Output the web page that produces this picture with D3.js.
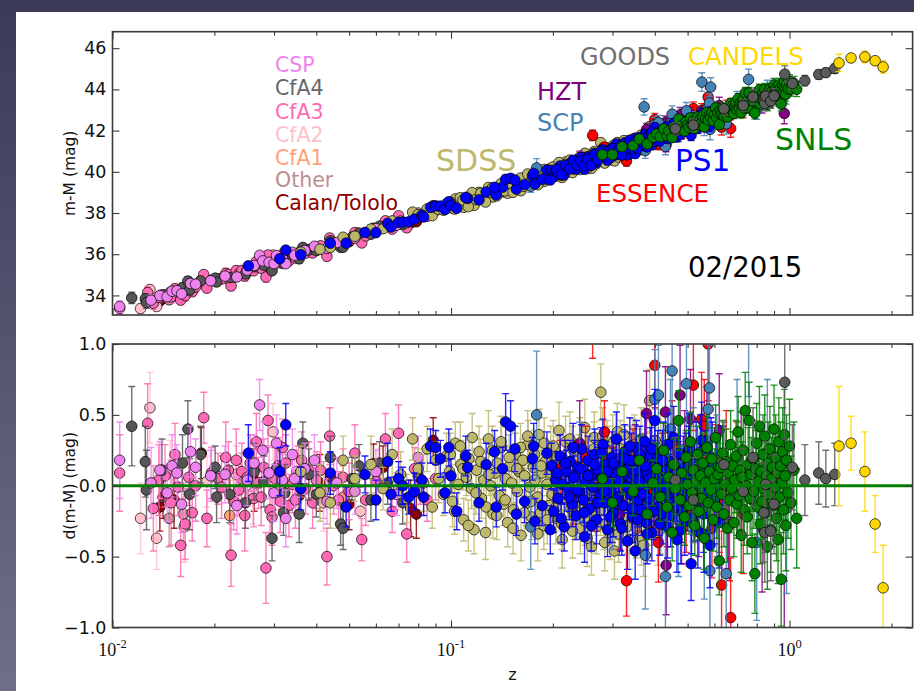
<!DOCTYPE html>
<html><head><meta charset="utf-8">
<script src="https://cdn.jsdelivr.net/npm/d3@7"></script>
<style>body{margin:0;background:#3c3b59;}svg{display:block;}</style>
</head><body>
<script>
// ---- DATA: rows are [z, residual d(m-M), error] ----
const calanTololo=[[.0138,-.15,.17],[.0141,-.08,.15],[.0152,-.10,.2],[.0183,.23,.18],[.0262,.04,.22],[.0356,-.07,.16],[.0410,.02,.2],[.0440,.06,.15],[.0500,-.13,.18],[.0590,.155,.14],[.0630,.13,.15],[.0760,-.16,.2],[.0790,-.20,.17],[.0886,.32,.16]];
const other=[[.0147,-.23,.2],[.0162,-.20,.22],[.0240,.05,.18],[.0420,-.03,.2]];
const cfa1=[[.0222,-.21,.25],[.0315,.04,.2],[.0480,-.08,.22]];
const cfa2=[[.0121,-.23,.25],[.0129,.55,.25],[.0135,-.37,.22],[.0148,.12,.2],[.0163,-.29,.25],[.0190,.03,.18],[.0232,.08,.2],[.0260,-.05,.22],[.0298,.38,.2],[.0350,.10,.18],[.0420,-.12,.2],[.0540,-.18,.17],[.0610,.06,.2],[.0700,-.02,.15]];
const cfa3=[[.0105,.09,.27],[.0127,.44,.28],[.0132,-.16,.3],[.0137,.04,.25],[.0143,.07,.22],[.0149,-.12,.3],[.0153,.22,.22],[.0156,-.01,.2],[.0159,-.42,.22],[.0164,-.27,.25],[.0168,.06,.2],[.0172,-.19,.2],[.0176,.00,.25],[.0186,.48,.18],[.0190,-.23,.2],[.0196,.09,.18],[.0205,.05,.18],[.0210,-.01,.22],[.0216,.20,.25],[.0220,.11,.2],[.0224,-.49,.22],[.0228,-.11,.2],[.0232,.18,.22],[.0236,-.03,.18],[.0241,.10,.2],[.0246,-.21,.25],[.0250,.06,.18],[.0255,.16,.2],[.0261,-.09,.2],[.0266,.31,.2],[.0270,.02,.18],[.0275,-.08,.2],[.0280,.13,.2],[.0284,-.58,.25],[.0288,.46,.18],[.0292,-.17,.2],[.0296,-.22,.2],[.0302,.05,.22],[.0308,.14,.2],[.0313,-.11,.22],[.0318,.27,.2],[.0325,.16,.2],[.0332,-.14,.22],[.0340,.01,.2],[.0347,-.10,.2],[.0355,.08,.2],[.0362,.18,.2],[.0372,-.02,.18],[.0380,.11,.2],[.0390,-.12,.18],[.0400,.04,.2],[.0412,.11,.2],[.0430,-.50,.2],[.0438,.35,.2],[.0450,.00,.2],[.0465,-.10,.2],[.0480,.06,.2],[.0500,-.04,.2],[.0520,.23,.2],[.0545,-.38,.15],[.0560,-.10,.18],[.0600,.03,.15],[.0640,.33,.18],[.0670,-.18,.15],[.0700,.37,.2],[.0740,-.34,.2],[.0780,.12,.15],[.0810,.02,.15],[.0850,-.10,.15],[.0900,.05,.15]];
const cfa4=[[.0114,.42,.28],[.0125,.17,.25],[.0126,-.03,.28],[.0140,.11,.22],[.0161,.16,.2],[.0167,.40,.2],[.0169,-.06,.25],[.0182,.22,.2],[.0201,.13,.15],[.0203,-.08,.18],[.0222,-.06,.2],[.0247,-.12,.18],[.0262,.10,.2],[.0280,.03,.18],[.0296,-.37,.16],[.0305,.12,.2],[.0320,-.19,.16],[.0323,-.05,.2],[.0356,-.20,.2],[.0365,.30,.15],[.0380,.08,.18],[.0400,-.06,.16],[.0440,.20,.15],[.0472,-.27,.15],[.0480,-.30,.15],[.0510,.05,.15],[.0535,.14,.15],[.0580,-.10,.15],[.0615,.16,.15],[.0650,.02,.15],[.0720,-.12,.15],[.0800,.07,.15]];
const csp=[[.0105,.18,.27],[.0130,.02,.25],[.0138,.11,.2],[.0145,-.05,.2],[.0150,.14,.22],[.0155,.09,.2],[.0160,-.13,.2],[.0170,.24,.18],[.0176,.13,.2],[.0195,.07,.18],[.0215,.08,.2],[.0233,-.14,.2],[.0250,.04,.18],[.0262,.16,.2],[.0272,.57,.18],[.0278,.25,.2],[.0290,.09,.18],[.0300,-.05,.2],[.0305,.30,.2],[.0318,.04,.18],[.0325,-.23,.2],[.0340,.22,.18],[.0345,.05,.2],[.0370,.12,.18],[.0395,.18,.18],[.0430,-.11,.16],[.0460,.02,.18],[.0520,-.04,.16],[.0600,.10,.15],[.0690,-.06,.15],[.0800,.20,.15]];
const sdss=[[.036,.10,.18],[.041,-.05,.2],[.044,-.12,.18],[.048,.18,.17],[.052,.05,.16],[.058,.15,.2],[.063,-.02,.15],[.067,.22,.18],[.071,.08,.16],[.074,-.09,.17],[.077,.33,.15],[.080,.12,.14],[.083,.02,.2],[.085,.26,.16],[.088,-.15,.15],[.090,.18,.13],[.092,.05,.17],[.095,-.06,.15],[.097,.21,.16],[.099,.10,.14],[.101,-.11,.18],[.103,.30,.15],[.105,.01,.14],[.107,.15,.17],[.109,-.24,.15],[.111,.06,.13],[.113,.19,.16],[.115,-.02,.14],[.117,-.31,.17],[.119,.11,.15],[.121,.24,.18],[.123,-.09,.14],[.125,.04,.16],[.127,-.15,.15],[.129,.33,.2],[.131,.00,.14],[.133,-.20,.17],[.135,.09,.15],[.137,.16,.16],[.139,-.07,.14],[.141,.27,.18],[.143,-.13,.15],[.145,.05,.16],[.147,-.26,.17],[.149,.14,.14],[.151,.02,.15],[.153,-.17,.16],[.155,.22,.15],[.157,-.04,.14],[.159,.10,.17],[.161,-.35,.18],[.163,.18,.15],[.165,.07,.14],[.167,-.12,.16],[.169,.29,.17],[.171,-.01,.15],[.173,-.22,.16],[.175,.13,.14],[.177,.04,.15],[.180,-.08,.17],[.182,.36,.18],[.184,-.19,.15],[.186,.09,.16],[.188,-.28,.17],[.190,.17,.15],[.192,.01,.14],[.195,-.14,.16],[.197,.25,.17],[.199,-.06,.15],[.202,.12,.16],[.204,-.23,.18],[.206,.20,.15],[.209,-.03,.14],[.211,.08,.16],[.213,-.38,.2],[.216,.15,.15],[.218,.31,.18],[.221,-.10,.16],[.223,.03,.15],[.226,-.16,.17],[.228,.26,.16],[.231,-.21,.17],[.233,.06,.15],[.236,-.09,.16],[.238,.19,.17],[.241,-.30,.18],[.243,.11,.15],[.246,.00,.16],[.249,-.25,.17],[.251,.23,.16],[.254,-.05,.15],[.257,.14,.17],[.260,-.43,.2],[.262,.07,.16],[.265,.34,.18],[.268,-.18,.17],[.271,.02,.15],[.274,-.12,.16],[.277,.66,.2],[.280,.21,.17],[.283,-.27,.18],[.286,.10,.16],[.289,.28,.18],[.292,-.07,.16],[.295,-.33,.19],[.298,.16,.17],[.301,.05,.16],[.304,-.46,.2],[.307,-.20,.18],[.310,.38,.2],[.314,-.14,.17],[.317,.09,.16],[.320,.24,.18],[.324,-.02,.17],[.327,.13,.16],[.331,-.29,.19],[.334,.18,.18],[.338,-.11,.17],[.342,.04,.18],[.345,.27,.2],[.349,-.24,.19],[.353,.15,.18],[.357,-.08,.17],[.361,.20,.2],[.365,-.36,.2],[.369,.01,.18],[.373,.12,.19],[.378,-.15,.18],[.382,.08,.2],[.386,.60,.22],[.391,-.22,.2],[.396,-.04,.2],[.401,.32,.22],[.406,-.19,.2],[.411,.06,.21],[.417,-.26,.22],[.423,.17,.2],[.429,-.09,.22],
[.0995,.22,.15],[.1025,-.18,.16],[.1065,.28,.17],[.1085,.12,.15],[.1125,-.28,.18],[.1155,.34,.17],[.1185,-.05,.15],[.1225,.17,.16],[.1265,-.33,.19],[.1295,.08,.15],[.1325,.25,.17],[.1365,-.21,.17],[.1405,.31,.18],[.1445,-.10,.15],[.1485,.20,.16],[.1525,-.30,.18],[.1565,.12,.15],[.1605,.27,.17],[.1645,-.19,.16],[.1685,.35,.18],[.1725,-.11,.16],[.1765,.22,.17],[.1805,-.34,.19],[.1845,.14,.16],[.1885,.30,.18],[.1925,-.24,.17],[.1965,.09,.16],[.2005,.28,.18],[.2045,-.15,.17],[.2085,.39,.2],[.2125,-.27,.18],[.2165,.18,.17],[.2205,-.06,.16],[.2245,.33,.19],[.2285,-.32,.19],[.2325,.14,.17],[.2365,-.19,.18],[.2405,.29,.19],[.2445,-.12,.17],[.2485,.41,.2],[.2525,-.37,.2],[.2565,.19,.18],[.2605,-.03,.17],[.2645,.26,.19],[.2685,-.29,.19],[.2725,.13,.18],[.2765,-.17,.18],[.2805,.35,.2],[.2845,-.40,.2],[.2885,.09,.18],[.2925,.23,.19],[.2965,-.23,.19],[.3005,.30,.2],[.3045,-.13,.18],[.3085,.17,.19],[.3125,-.34,.2],[.3165,.26,.2],[.3205,-.06,.19],[.3245,.36,.21],[.3285,-.21,.2],[.3325,.10,.19],[.3365,-.38,.21],[.3405,.22,.2],[.3445,-.14,.2],[.3485,.29,.21],[.3525,-.30,.21],[.3565,.07,.2],[.3605,-.18,.21],[.3645,.33,.22],[.3705,-.42,.22],[.3765,.16,.21],[.3825,-.27,.22],[.3885,.24,.22],[.3945,-.11,.21],[.4005,.19,.22],[.4085,-.33,.23],[.4165,.28,.23]];
const essence=[[.210,.12,.2],[.230,-.05,.22],[.250,.20,.22],[.262,1.15,.25],[.270,-.12,.2],[.284,.38,.22],[.300,.05,.22],[.315,-.20,.25],[.330,-.67,.25],[.345,.15,.25],[.360,-.08,.24],[.375,.25,.26],[.390,-.02,.27],[.400,.85,.3],[.410,-.40,.28],[.420,.10,.27],[.435,-.15,.28],[.450,.30,.3],[.465,.02,.28],[.480,-.25,.3],[.495,-.17,.3],[.505,.18,.3],[.520,.71,.32],[.535,-.06,.3],[.550,.47,.33],[.560,.42,.33],[.575,1.0,.4],[.590,-.30,.35],[.605,.08,.35],[.620,-.12,.35],[.630,-.70,.38],[.650,.15,.38],[.665,-.27,.4],[.670,-.93,.42],[.700,.05,.4],[.730,-.20,.42]];
const hzt=[[.240,.30,.3],[.300,-.10,.3],[.350,.15,.28],[.378,.51,.3],[.400,.05,.3],[.430,.52,.32],[.432,-.56,.35],[.455,-.05,.3],[.475,.64,.35],[.490,.20,.33],[.510,.47,.35],[.540,-.15,.35],[.570,.32,.38],[.620,.39,.4],[.660,-.25,.4],[.720,.10,.42],[.830,-.30,.45],[.965,-1.17,.5]];
const scp=[[.172,-.29,.3],[.179,.50,.45],[.240,.10,.35],[.300,-.15,.3],[.372,1.65,.4],[.375,-.49,.38],[.400,.61,.35],[.410,.64,.35],[.430,-.64,.4],[.445,.40,.35],[.450,.81,.4],[.470,-.24,.4],[.496,.72,.4],[.520,.10,.45],[.551,1.84,.45],[.560,-.35,.45],[.575,.54,.45],[.580,.69,.45],[.582,-.60,.5],[.585,1.44,.45],[.610,.00,.5],[.650,-.62,.5],[.700,.20,.55],[.757,1.13,.5],[.800,-.40,.55],[.860,.15,.6],[.980,-.16,.6]];
const ps1=[[.0252,.23,.2],[.0312,.10,.17],[.0325,.43,.15],[.0360,-.02,.15],[.0440,.09,.15],[.0490,-.15,.14],[.0557,.08,.13],[.0600,-.10,.14],[.0650,.17,.13],[.0665,-.06,.12],[.0700,.05,.12],[.0720,.00,.13],[.0750,-.08,.12],[.0780,-.04,.13],[.0820,.04,.12],[.0830,-.08,.13],[.0870,.28,.12],[.0901,.27,.12],[.0930,.19,.13],[.0960,-.05,.14],[.0985,.27,.13],[.1000,.07,.12],[.1040,-.18,.13],[.1120,.13,.12],[.1210,-.12,.13],[.1270,.15,.15],[.1360,-.15,.14],[.1420,.12,.15],[.1450,.45,.2],[.1500,.42,.18],[.1560,-.20,.15],[.1650,-.11,.15],[.1740,.19,.15],[.1770,-.25,.16],[.1860,-.14,.14],[.1920,.23,.15],[.1980,.14,.16],[.2010,-.18,.15],[.2040,.04,.14],[.2070,-.09,.16],[.2100,.21,.15],[.2130,.01,.14],[.2160,-.29,.17],[.2190,.10,.15],[.2220,-.02,.16],[.2250,.17,.15],[.2280,-.13,.16],[.2310,.06,.15],[.2340,-.21,.17],[.2370,.13,.16],[.2400,-.05,.15],[.2430,.26,.17],[.2460,-.10,.16],[.2480,-.36,.18],[.2510,.03,.16],[.2540,.18,.17],[.2570,-.16,.16],[.2600,.08,.17],[.2630,-.01,.15],[.2660,.22,.18],[.2690,-.24,.17],[.2720,.11,.16],[.2750,-.07,.17],[.2780,.05,.16],[.2810,.29,.18],[.2840,-.12,.17],[.2870,.15,.16],[.2900,-.31,.19],[.2930,.02,.17],[.2960,-.04,.16],[.2990,.20,.18],[.3020,-.19,.17],[.3050,.09,.16],[.3080,.33,.19],[.3110,-.08,.17],[.3140,.14,.18],[.3170,-.27,.19],[.3200,.06,.17],[.3230,-.14,.18],[.3260,.24,.19],[.3290,.00,.17],[.3320,-.39,.2],[.3350,.12,.18],[.3380,-.06,.17],[.3410,.18,.19],[.3440,-.22,.18],[.3470,.07,.17],[.3500,-.46,.2],[.3530,.27,.19],[.3560,-.11,.18],[.3590,.04,.17],[.3620,.16,.19],[.3650,-.17,.18],[.3680,.10,.19],[.3710,-.03,.18],[.3740,.31,.2],[.3770,-.26,.19],[.3800,.08,.18],[.3840,-.09,.19],[.3880,.21,.2],[.3920,-.33,.2],[.3960,.13,.19],[.4000,.46,.22],[.4040,-.02,.19],[.4080,.19,.2],[.4120,-.15,.2],[.4160,.05,.19],[.4200,-.20,.21],[.4240,.25,.2],[.4280,-.07,.2],[.4320,.11,.21],[.4360,-.29,.22],[.4400,.02,.2],[.4450,.17,.21],[.4500,-.12,.21],[.4550,.34,.22],[.4600,-.04,.21],[.4650,-.38,.23],[.4700,.09,.22],[.4750,.22,.23],[.4800,-.18,.22],[.4850,.04,.22],[.4900,-.25,.24],[.4950,.14,.23],[.5000,-.09,.23],[.5060,.26,.25],[.5120,-.55,.26],[.5180,.01,.24],[.5240,-.14,.25],[.5300,.20,.25],[.5360,-.32,.26],[.5430,.08,.25],[.5500,.32,.27],[.5570,-.20,.27],[.5650,.12,.27],[.5730,-.05,.28],[.5820,-.42,.3],[.5910,.15,.3],[.6000,-.11,.3],[.6100,.03,.3],[.6200,-.26,.32],[.6350,.10,.32],
[.1105,.21,.14],[.1345,.24,.15],[.1545,.26,.16],[.1755,.28,.16],[.1965,-.31,.17],[.2055,.09,.15],[.2115,-.23,.17],[.2175,.16,.16],[.2235,-.08,.16],[.2295,.27,.17],[.2355,-.03,.16],[.2415,.12,.17],[.2475,-.19,.17],[.2535,.07,.17],[.2595,-.28,.18],[.2655,.15,.17],[.2715,-.12,.17],[.2775,.23,.18],[.2835,-.04,.17],[.2895,.10,.18],[.2955,-.22,.18],[.3015,.16,.18],[.3075,-.10,.18],[.3135,.04,.18],[.3195,-.30,.19],[.3255,.19,.19],[.3315,-.01,.18],[.3375,.28,.2],[.3435,-.16,.19],[.3495,.11,.19],[.3555,-.24,.2],[.3615,.22,.2],[.3675,-.06,.19],[.3735,.14,.2],[.3795,-.34,.21],[.3855,.05,.2],[.3915,.26,.21],[.3975,-.18,.2],[.4055,.09,.21],[.4135,-.27,.22],[.4215,.18,.21],[.4295,-.01,.21],[.4375,.29,.22],[.4455,-.21,.22],[.4535,.07,.22],[.4615,-.14,.22],[.4695,.23,.23],[.4775,-.31,.24],[.4855,.12,.23],[.4935,-.05,.23],[.5035,.18,.24],[.5135,-.23,.25],[.5235,.06,.25],[.5335,-.10,.25],[.5455,.24,.26],[.5585,-.34,.27],[.5715,.04,.27],[.5865,.20,.28]];
const snls=[[.280,.05,.16],[.300,-.12,.17],[.320,.10,.16],[.345,-.04,.17],[.360,.18,.17],[.380,-.20,.18],[.395,.02,.16],[.405,.12,.18],[.415,-.08,.17],[.425,.25,.19],[.435,-.15,.18],[.440,.06,.17],[.450,-.33,.2],[.455,.15,.18],[.460,-.02,.18],[.470,.46,.21],[.475,-.10,.18],[.480,.09,.19],[.490,-.22,.2],[.495,.20,.19],[.500,.01,.18],[.505,-.14,.2],[.510,.31,.21],[.515,-.05,.19],[.520,.11,.2],[.525,-.28,.21],[.530,.04,.19],[.535,.22,.2],[.540,-.18,.2],[.545,.07,.19],[.550,-.09,.2],[.555,.16,.21],[.560,-.37,.22],[.565,.02,.2],[.570,.27,.22],[.575,-.12,.21],[.580,.10,.21],[.585,-.03,.2],[.590,.19,.22],[.595,-.24,.22],[.600,.05,.21],[.605,.34,.23],[.610,-.15,.22],[.615,.08,.22],[.620,-.53,.24],[.625,.13,.22],[.630,-.06,.22],[.635,.23,.23],[.640,-.20,.23],[.645,.01,.22],[.650,.17,.23],[.655,-.30,.24],[.660,.09,.23],[.665,-.10,.23],[.670,.29,.24],[.675,-.02,.23],[.680,.14,.24],[.685,-.26,.24],[.690,.04,.23],[.695,.21,.25],[.700,-.13,.24],[.705,.38,.25],[.710,-.07,.24],[.715,.11,.25],[.720,-.35,.26],[.725,.06,.25],[.730,.25,.26],[.735,-.17,.25],[.740,.53,.27],[.745,.00,.25],[.750,-.22,.26],[.755,.15,.26],[.760,.46,.27],[.765,-.09,.26],[.770,.08,.26],[.775,-.40,.27],[.780,.19,.27],[.785,-.04,.26],[.790,-.62,.28],[.795,.12,.27],[.800,.30,.28],[.805,-.15,.27],[.810,.03,.27],[.815,.42,.28],[.820,-.27,.28],[.825,.10,.28],[.830,-.11,.27],[.835,.22,.28],[.840,-.02,.28],[.845,.35,.29],[.850,-.19,.28],[.855,.07,.28],[.860,-.43,.3],[.865,.16,.29],[.870,-.06,.28],[.875,.26,.3],[.880,-.31,.3],[.885,.05,.29],[.890,.13,.29],[.895,-.14,.29],[.900,.40,.31],[.905,-.01,.3],[.910,.20,.3],[.915,-.23,.3],[.920,.09,.3],[.925,-.38,.31],[.930,.31,.31],[.935,-.08,.3],[.940,.14,.31],[.945,-.66,.33],[.950,.02,.31],[.955,.24,.31],[.960,-.17,.31],[.965,.36,.32],[.970,.07,.31],[.975,-.28,.32],[.980,.18,.32],[.990,-.05,.32],[1.000,.28,.33],[1.010,-.12,.33],[1.030,.11,.34],[1.050,-.23,.35]];
const goods=[[.460,.04,.3],[.520,-.10,.3],[.640,.15,.3],[.730,-.04,.3],[.780,.20,.35],[.840,-.19,.35],[.845,-.33,.35],[.850,.01,.3],[.880,-.32,.35],[.900,-.13,.35],[.968,.73,.4],[1.02,.13,.3],[1.11,.04,.25],[1.22,.09,.22],[1.28,.05,.2],[1.36,.08,.22]];
const candels=[[1.40,.28,.42],[1.52,.30,.19],[1.67,.10,.28],[1.79,-.27,.2],[1.89,-.72,.3]];

const xMajorTicks=[0.01,0.1,1];
const xMajorExponents=["-2","-1","0"];
const xMinorTicks=[.02,.03,.04,.05,.06,.07,.08,.09,.2,.3,.4,.5,.6,.7,.8,.9,2];
const muTicks=[34,36,38,40,42,44,46];
const dmuTicks=[-1,-0.5,0,0.5,1];

// ---- styles / layout ----
const surveys=[
 {name:"Calan/Tololo",rows:calanTololo,color:"#8b0000"},
 {name:"Other",rows:other,color:"#bc8f8f"},
 {name:"CfA1",rows:cfa1,color:"#ffa07a"},
 {name:"CfA2",rows:cfa2,color:"#ffc0cb"},
 {name:"CfA3",rows:cfa3,color:"#ff69b4"},
 {name:"CfA4",rows:cfa4,color:"#555555"},
 {name:"CSP",rows:csp,color:"#ee82ee"},
 {name:"SDSS",rows:sdss,color:"#bdb76b"},
 {name:"ESSENCE",rows:essence,color:"#ff0000"},
 {name:"HZT",rows:hzt,color:"#800080"},
 {name:"SCP",rows:scp,color:"#4682b4"},
 {name:"PS1",rows:ps1,color:"#0000ff"},
 {name:"SNLS",rows:snls,color:"#008000"},
 {name:"GOODS",rows:goods,color:"#5a5a5a"},
 {name:"CANDELS",rows:candels,color:"#ffd700"}
];
const labels=[
 {t:"CSP",x:275,y:71.7,s:20.5,c:"#ee82ee"},
 {t:"CfA4",x:275,y:95.2,s:20.5,c:"#666666"},
 {t:"CfA3",x:275,y:118.5,s:20.5,c:"#ff69b4"},
 {t:"CfA2",x:275,y:141.7,s:20.5,c:"#ffc0cb"},
 {t:"CfA1",x:275,y:164.5,s:20.5,c:"#ffa07a"},
 {t:"Other",x:275,y:187,s:20.5,c:"#bc8f8f"},
 {t:"Calan/Tololo",x:275,y:210,s:20.5,c:"#8b0000"},
 {t:"GOODS",x:580,y:64.5,s:24,c:"#707070"},
 {t:"CANDELS",x:688,y:64.5,s:24.5,c:"#ffd700"},
 {t:"HZT",x:537,y:100,s:24,c:"#800080"},
 {t:"SCP",x:537,y:131,s:24,c:"#4682b4"},
 {t:"SDSS",x:436,y:170.7,s:30,c:"#bdb76b"},
 {t:"PS1",x:675,y:171,s:29.5,c:"#0000ff"},
 {t:"ESSENCE",x:596,y:201.7,s:24.5,c:"#ff0000"},
 {t:"SNLS",x:775,y:150,s:30,c:"#008000"},
 {t:"02/2015",x:688,y:276.5,s:27.5,c:"#000000",w:"normal"}
];

// distance modulus of flat LCDM (Om=0.3, H0=70) used for the top panel
function muModel(z){
  const n=200,h=z/n,Om=0.3;
  const f=t=>1/Math.sqrt(Om*Math.pow(1+t,3)+1-Om);
  let s=f(0)+f(z);
  for(let i=1;i<n;i++) s+=(i%2?4:2)*f(i*h);
  const dC=299792.458/70*s*h/3;
  return 5*Math.log10((1+z)*dC)+25;
}

const W=914,H=691;
const L=112.5,R=912.6;
const top1=31.7,bot1=315,top2=344,bot2=627.5;
const FONT="DejaVu Sans, Bitstream Vera Sans, sans-serif";

const svg=d3.select("body").append("svg").attr("width",W).attr("height",H);
const defs=svg.append("defs");
const lg=defs.append("linearGradient").attr("id","bg").attr("x1",0).attr("y1",0).attr("x2",0).attr("y2",1);
lg.append("stop").attr("offset","0%").attr("stop-color","#3b3a57");
lg.append("stop").attr("offset","100%").attr("stop-color","#706f89");
defs.append("clipPath").attr("id","cTop").append("rect").attr("x",L).attr("y",top1).attr("width",R-L).attr("height",bot1-top1);
defs.append("clipPath").attr("id","cBot").append("rect").attr("x",L).attr("y",top2).attr("width",R-L).attr("height",bot2-top2);

svg.append("rect").attr("width",W).attr("height",H).attr("fill","url(#bg)");
svg.append("rect").attr("x",16).attr("y",12).attr("width",W-16).attr("height",H-12).attr("fill","#ffffff");

const x=d3.scaleLog().domain([0.01,2.31]).range([L,R]);
const yTop=d3.scaleLinear().domain([33.05,46.8]).range([bot1,top1]);
const yBot=d3.scaleLinear().domain([-1,1]).range([bot2,top2]);

// annotation labels in top panel (drawn under the points)
const labG=svg.append("g");
labels.forEach(l=>{
  labG.append("text").attr("x",l.x).attr("y",l.y).attr("font-family",FONT)
   .attr("font-size",l.s).attr("font-weight",l.w||"normal").attr("fill",l.c).text(l.t);
});

function drawSeries(clipId,y,val){
  const g=svg.append("g").attr("clip-path","url(#"+clipId+")");
  surveys.forEach(s=>{
    const gs=g.append("g");
    gs.selectAll("line.bar").data(s.rows).join("line").attr("class","bar")
      .attr("x1",d=>x(d[0])).attr("x2",d=>x(d[0]))
      .attr("y1",d=>y(val(d)-d[2])).attr("y2",d=>y(val(d)+d[2]))
      .attr("stroke",s.color).attr("stroke-width",1.4).attr("stroke-opacity",0.85);
    gs.selectAll("line.cap").data(s.rows.flatMap(d=>[[d,-1],[d,1]])).join("line").attr("class","cap")
      .attr("x1",d=>x(d[0][0])-3.5).attr("x2",d=>x(d[0][0])+3.5)
      .attr("y1",d=>y(val(d[0])+d[1]*d[0][2])).attr("y2",d=>y(val(d[0])+d[1]*d[0][2]))
      .attr("stroke",s.color).attr("stroke-width",1.4).attr("stroke-opacity",0.85);
    gs.selectAll("circle").data(s.rows).join("circle")
      .attr("cx",d=>x(d[0])).attr("cy",d=>y(val(d))).attr("r",5.3)
      .attr("fill",s.color).attr("stroke","#000").attr("stroke-width",0.7);
  });
  return g;
}
drawSeries("cTop",yTop,d=>muModel(d[0])+d[1]);
const gb=drawSeries("cBot",yBot,d=>d[1]);
gb.append("line").attr("x1",L).attr("x2",R).attr("y1",yBot(0)).attr("y2",yBot(0))
  .attr("stroke","#008000").attr("stroke-width",3);

// axes
const AX="#3a3a3a";
function styleAxis(g){g.select(".domain").remove();g.attr("color",AX).selectAll("line").attr("stroke-width",1.1);
  g.selectAll("text").attr("font-family",FONT).attr("font-size",17.5).attr("fill","#111");}
function xAxes(yb,yt){
  svg.append("g").attr("transform",`translate(0,${yb})`).call(d3.axisBottom(x).tickValues(xMajorTicks).tickSizeInner(-7).tickSizeOuter(0).tickFormat("")).call(styleAxis);
  svg.append("g").attr("transform",`translate(0,${yb})`).call(d3.axisBottom(x).tickValues(xMinorTicks).tickSizeInner(-4).tickSizeOuter(0).tickFormat("")).call(styleAxis);
  svg.append("g").attr("transform",`translate(0,${yt})`).call(d3.axisTop(x).tickValues(xMajorTicks).tickSizeInner(-7).tickSizeOuter(0).tickFormat("")).call(styleAxis);
  svg.append("g").attr("transform",`translate(0,${yt})`).call(d3.axisTop(x).tickValues(xMinorTicks).tickSizeInner(-4).tickSizeOuter(0).tickFormat("")).call(styleAxis);
}
xAxes(bot1,top1);
xAxes(bot2,top2);
svg.append("g").attr("transform",`translate(${L},0)`).call(d3.axisLeft(yTop).tickValues(muTicks).tickSizeInner(-7).tickSizeOuter(0).tickPadding(6).tickFormat(d3.format("d"))).call(styleAxis);
svg.append("g").attr("transform",`translate(${R},0)`).call(d3.axisRight(yTop).tickValues(muTicks).tickSizeInner(-7).tickSizeOuter(0).tickFormat("")).call(styleAxis);
svg.append("g").attr("transform",`translate(${L},0)`).call(d3.axisLeft(yBot).tickValues(dmuTicks).tickSizeInner(-7).tickSizeOuter(0).tickPadding(6).tickFormat(d3.format(".1f"))).call(styleAxis);
svg.append("g").attr("transform",`translate(${R},0)`).call(d3.axisRight(yBot).tickValues(dmuTicks).tickSizeInner(-7).tickSizeOuter(0).tickFormat("")).call(styleAxis);

// frames
[[top1,bot1],[top2,bot2]].forEach(([a,b])=>{
  svg.append("rect").attr("x",L).attr("y",a).attr("width",R-L).attr("height",b-a)
    .attr("fill","none").attr("stroke",AX).attr("stroke-width",1.6);
});

// x tick labels 10^n
xMajorTicks.forEach((v,i)=>{
  const t=svg.append("text").attr("x",x(v)).attr("y",656).attr("text-anchor","middle")
    .attr("font-family","Liberation Serif, DejaVu Serif, serif").attr("font-size",18).attr("fill","#111");
  t.append("tspan").text("10");
  t.append("tspan").attr("dy",-8.5).attr("font-size",12.5).text(xMajorExponents[i]);
});

// axis titles
svg.append("text").attr("transform",`translate(75,${(top1+bot1)/2}) rotate(-90)`).attr("text-anchor","middle")
  .attr("font-family",FONT).attr("font-size",15.5).attr("fill","#111").text("m-M (mag)");
svg.append("text").attr("transform",`translate(75,${(top2+bot2)/2}) rotate(-90)`).attr("text-anchor","middle")
  .attr("font-family",FONT).attr("font-size",15.5).attr("fill","#111").text("d(m-M) (mag)");
svg.append("text").attr("x",(L+R)/2).attr("y",680).attr("text-anchor","middle")
  .attr("font-family",FONT).attr("font-size",16).attr("fill","#111").text("z");
</script>
</body></html>
